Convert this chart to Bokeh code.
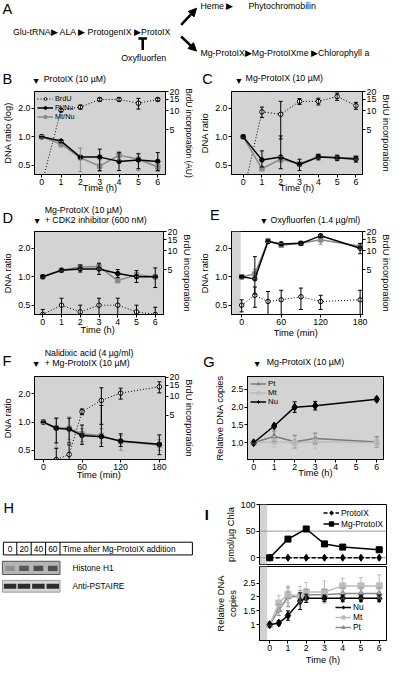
from bokeh.plotting import figure
from bokeh.models import (Range1d, LinearAxis, FixedTicker, Whisker, TeeHead, ColumnDataSource,
                          Label, BoxAnnotation, Span, Legend, LegendItem, Arrow, NormalHead,
                          NumeralTickFormatter)
from bokeh.layouts import row, column
from bokeh.embed import file_html
from bokeh.resources import INLINE

# ---------------- data ----------------
hours = [0, 1, 2, 3, 4, 5, 6]
minutes = [0, 20, 40, 60, 90, 120, 180]

# B: ProtoIX
b_brdu = [0.7, 10.2, 11.4, 15.0, 15.0, 13.1, 15.0]
b_brdu_err = [0.0, 0.6, 0.8, 0.8, 0.9, 2.5, 0.8]
b_pt = [1.0, 0.90, 0.61, 0.61, 0.55, 0.57, 0.55]
b_pt_lo = [1.0, 0.87, 0.61, 0.44, 0.44, 0.46, 0.44]
b_pt_hi = [1.0, 0.93, 0.61, 0.74, 0.68, 0.66, 0.68]
b_mt = [1.0, 0.84, 0.60, 0.49, 0.64, 0.58, 0.48]
b_mt_lo = [0.97, 0.78, 0.43, 0.43, 0.57, 0.44, 0.43]
b_mt_hi = [1.03, 0.89, 0.76, 0.57, 0.70, 0.67, 0.52]

# C: Mg-ProtoIX
c_brdu = [0.5, 9.6, 8.8, 14.0, 14.0, 16.7, 12.0]
c_brdu_err = [0.0, 1.8, 5.2, 1.5, 1.7, 2.2, 1.5]
c_pt = [1.0, 0.57, 0.61, 0.51, 0.61, 0.60, 0.58]
c_pt_lo = [1.0, 0.48, 0.46, 0.44, 0.57, 0.56, 0.54]
c_pt_hi = [1.0, 0.71, 1.02, 0.58, 0.65, 0.64, 0.62]
c_mt = [1.0, 0.46, 0.58, 0.52, 0.62, 0.60, 0.60]
c_mt_lo = [1.0, 0.44, 0.54, 0.49, 0.58, 0.57, 0.57]
c_mt_hi = [1.0, 0.49, 0.62, 0.55, 0.66, 0.63, 0.63]

# D: Mg-ProtoIX + CDK2 inhibitor
d_brdu = [1.0, 1.4, 1.1, 1.4, 1.4, 1.1, 1.0]
d_brdu_err = [0.2, 0.4, 0.3, 0.4, 0.4, 0.3, 0.3]
d_pt = [1.0, 1.17, 1.21, 1.21, 1.08, 1.0, 1.0]
d_pt_lo = [1.0, 1.15, 1.12, 1.06, 0.98, 0.87, 0.77]
d_pt_hi = [1.0, 1.19, 1.33, 1.39, 1.19, 1.16, 1.24]
d_mt = [1.0, 1.17, 1.27, 1.28, 0.91, 1.05, 1.0]
d_mt_lo = [1.0, 1.15, 1.20, 1.20, 0.88, 1.0, 0.95]
d_mt_hi = [1.0, 1.19, 1.34, 1.36, 0.94, 1.1, 1.05]

# E: Oxyfluorfen
e_brdu = [1.4, 2.0, 1.6, 1.7, 1.9, 1.6, 1.7]
e_brdu_err = [0.3, 0.7, 0.7, 0.7, 0.7, 0.4, 0.7]
e_pt = [1.0, 0.95, 2.35, 2.22, 2.25, 2.7, 2.0]
e_pt_lo = [0.97, 0.66, 2.25, 2.12, 2.15, 2.6, 1.75]
e_pt_hi = [1.03, 1.63, 2.45, 2.32, 2.35, 2.8, 2.25]
e_mt = [1.0, 1.07, 2.4, 2.15, 2.25, 2.45, 2.1]
e_mt_lo = [0.95, 0.95, 2.3, 2.05, 2.15, 2.2, 1.95]
e_mt_hi = [1.05, 1.2, 2.5, 2.25, 2.35, 2.7, 2.25]

# F: Nalidixic acid + Mg-ProtoIX
f_brdu = [0.5, 1.0, 1.2, 5.7, 8.6, 11.2, 14.1]
f_brdu_err = [0.3, 0.5, 0.5, 0.6, 5.0, 2.2, 2.8]
f_pt = [1.0, 0.86, 0.84, 0.72, 0.70, 0.63, 0.58]
f_pt_lo = [1.0, 0.60, 0.60, 0.58, 0.55, 0.55, 0.45]
f_pt_hi = [1.0, 1.10, 1.10, 0.93, 1.50, 0.75, 0.73]
f_mt = [1.0, 0.87, 0.86, 0.75, 0.72, 0.62, 0.57]
f_mt_lo = [0.97, 0.54, 0.65, 0.62, 0.60, 0.50, 0.50]
f_mt_hi = [1.03, 1.10, 1.13, 0.85, 0.85, 0.72, 0.65]

# G: relative DNA copies
g_t = [0, 1, 2, 3, 6]
g_nu = [1.0, 1.47, 2.0, 2.04, 2.22]
g_nu_err = [0.0, 0.05, 0.15, 0.12, 0.06]
g_mt = [1.0, 1.03, 1.0, 1.03, 1.0]
g_mt_err = [0.0, 0.15, 0.17, 0.2, 0.12]
g_pt = [1.0, 1.18, 1.03, 1.12, 1.02]
g_pt_err = [0.0, 0.15, 0.18, 0.15, 0.15]

# H: blot lanes
h_lanes = ["0", "20", "40", "60"]
h_histone = [0.45, 0.75, 0.8, 0.8]
h_pstaire = [0.95, 0.95, 0.95, 0.95]

# I top: pmol / ug Chla
i_mg_t = [0, 1, 2, 3, 4, 6]
i_mg = [0, 35, 54, 26, 20, 15]
i_proto_t = [0, 1, 2, 3, 4, 5, 6]
i_proto = [0, 0, 0, 0, 0, 0, 0]

# I bottom: relative DNA copies
i_t = [0, 0.5, 1, 1.67, 2, 3, 4, 5, 6]
i_nu = [1.0, 1.06, 1.33, 1.85, 1.95, 1.95, 1.95, 1.95, 1.95]
i_nu_err = [0.0, 0.07, 0.17, 0.3, 0.15, 0.12, 0.12, 0.12, 0.12]
i_mt = [1.0, 1.78, 2.1, 2.03, 2.18, 2.18, 2.4, 2.4, 2.4]
i_mt_err = [0.0, 0.28, 0.3, 0.35, 0.35, 0.4, 0.28, 0.3, 0.4]
i_pt = [1.0, 1.53, 2.0, 2.03, 2.08, 2.08, 2.13, 2.13, 2.13]
i_pt_err = [0.0, 0.2, 0.35, 0.2, 0.2, 0.2, 0.2, 0.2, 0.2]

# ---------------- styling / layout helpers ----------------
FONT = "Liberation Sans"
BG = "#d3d3d3"
GRAY = "#8a8a8a"
LIGHT = "#bdbdbd"
SX = 394 / 410
SY = 667 / 683


def fs(n):
    return f"{n * 0.975:.1f}px"


def sxp(x):
    return round(x * SX)


def syp(y):
    return round(y * SY)


def plain_fig(col, rows):
    """Axis-less figure whose frame is the whole canvas; ranges in reference pixels."""
    p = figure(width=sxp(col[1]) - sxp(col[0]), height=syp(rows[1]) - syp(rows[0]),
               x_range=Range1d(col[0], col[1]), y_range=Range1d(rows[1], rows[0]),
               output_backend="svg", toolbar_location=None, min_border=0,
               x_axis_location=None, y_axis_location=None)
    p.outline_line_color = None
    p.grid.visible = False
    p.background_fill_color = "white"
    return p


def dnote(p, X, Y, text, size=9, align="left", style="normal"):
    p.add_layout(Label(x=X, y=Y, text=text, text_font=FONT, text_font_size=fs(size),
                       text_align=align, text_baseline="middle", text_color="black",
                       text_font_style=style))


def frame_fig(col, rows, frame, xr, yr, ylog=False, bg=BG, x_axis=True):
    L, T, R, B = frame
    x0, x1 = sxp(col[0]), sxp(col[1])
    y0, y1 = syp(rows[0]), syp(rows[1])
    p = figure(width=x1 - x0, height=y1 - y0, x_range=Range1d(*xr), y_range=Range1d(*yr),
               y_axis_type=("log" if ylog else "linear"),
               x_axis_location=("below" if x_axis else None),
               output_backend="svg", toolbar_location=None,
               min_border_left=sxp(L) - x0, min_border_right=x1 - sxp(R),
               min_border_top=syp(T) - y0, min_border_bottom=y1 - syp(B))
    p.background_fill_color = bg
    p.border_fill_color = "white"
    p.outline_line_color = "black"
    p.outline_line_width = 1
    p.grid.visible = False
    return p


def style_axis(ax, label="", ticks=None, fmt=None, standoff=2, lab=9.5, tick=9):
    if ticks is not None:
        ax.ticker = FixedTicker(ticks=ticks)
    if fmt:
        ax.formatter = NumeralTickFormatter(format=fmt)
    ax.axis_label = label
    ax.axis_label_text_font = FONT
    ax.axis_label_text_font_size = fs(lab)
    ax.axis_label_text_font_style = "normal"
    ax.axis_label_text_color = "black"
    ax.axis_label_standoff = standoff
    ax.major_label_text_font = FONT
    ax.major_label_text_font_size = fs(tick)
    ax.major_label_text_color = "black"
    ax.major_label_standoff = 1
    ax.major_tick_in = 0
    ax.major_tick_out = 3
    ax.minor_tick_in = 0
    ax.minor_tick_out = 0
    ax.axis_line_color = "black"
    ax.major_tick_line_color = "black"


def whisk(p, x, lo, hi, color, yname="default", cap=4):
    src = ColumnDataSource(dict(x=list(x), lo=list(lo), hi=list(hi)))
    p.add_layout(Whisker(base="x", lower="lo", upper="hi", source=src, line_color=color,
                         line_width=1, y_range_name=yname, level="glyph",
                         upper_head=TeeHead(size=cap, line_color=color, line_width=1),
                         lower_head=TeeHead(size=cap, line_color=color, line_width=1)))


def series(p, x, y, color, marker, size, fill=None, dash="solid", lw=1.5,
           yname="default", lo=None, hi=None, err=None):
    if err is not None:
        lo = [v - e for v, e in zip(y, err)]
        hi = [v + e for v, e in zip(y, err)]
    if lo is not None:
        whisk(p, x, lo, hi, color, yname)
    l = p.line(x, y, line_color=color, line_width=lw, line_dash=dash, y_range_name=yname)
    s = p.scatter(x, y, marker=marker, size=size, fill_color=fill or color,
                  line_color=color, line_width=1, y_range_name=yname)
    return [l, s]


def legend(p, items, location, size=7.5, gh=7):
    lg = Legend(items=[LegendItem(label=t, renderers=r) for t, r in items], location=location)
    lg.label_text_font = FONT
    lg.label_text_font_size = fs(size)
    lg.label_text_color = "black"
    lg.glyph_width = 16
    lg.glyph_height = gh
    lg.label_height = gh
    lg.spacing = 0
    lg.padding = 0
    lg.margin = 3
    lg.label_standoff = 2
    lg.background_fill_alpha = 0
    lg.border_line_alpha = 0
    p.add_layout(lg)


def dna_panel(col, rows, frame, xr, yr, rr, xt, xlabel, ylabel, rlabel, t, brdu, brdu_err,
              pt, pt_lo, pt_hi, mt, mt_lo, mt_hi, bg=BG, xstand=0, rsize=9.5):
    p = frame_fig(col, rows, frame, xr, yr, ylog=True, bg=bg)
    style_axis(p.yaxis[0], ylabel, [0.5, 1, 2], "0.0", standoff=2)
    style_axis(p.xaxis[0], xlabel, xt, standoff=xstand)
    p.extra_y_ranges = {"r": Range1d(*rr)}
    ax = LinearAxis(y_range_name="r")
    style_axis(ax, rlabel, [0, 5, 10, 15, 20], standoff=2, lab=rsize)
    p.add_layout(ax, "right")
    r_b = series(p, t, brdu, "black", "circle", 4.5, fill="white", dash="1 2", lw=1,
                 yname="r", err=brdu_err)
    r_m = series(p, t, mt, GRAY, "square", 4.5, lo=mt_lo, hi=mt_hi)
    r_p = series(p, t, pt, "black", "circle", 4.5, lo=pt_lo, hi=pt_hi)
    return p, r_b, r_p, r_m


DOWN = "\u25BC"

# ---------------- panel A (scheme) ----------------
pA = plain_fig((0, 410), (0, 72))
dnote(pA, 2, 9, "A", 15)
dnote(pA, 13, 32, "Glu-tRNA\u25B6 ALA \u25B6 ProtogenIX \u25B6ProtoIX", 9)
dnote(pA, 208, 6, "Heme", 9)
dnote(pA, 235, 6, "\u25B6", 9)
dnote(pA, 258, 6, "Phytochromobilin", 9)
dnote(pA, 208, 54, "Mg-ProtoIX\u25B6Mg-ProtoIXme \u25B6Chlorophyll a", 9)
dnote(pA, 149, 59, "Oxyfluorfen", 9, align="center")
for xs, ys, xe, ye in [(188, 25, 204, 8), (188, 37, 204, 52)]:
    pA.add_layout(Arrow(x_start=xs, y_start=ys, x_end=xe, y_end=ye, line_width=2.5,
                        end=NormalHead(size=8, fill_color="black", line_color="black")))
pA.segment(x0=[148, 143.5], y0=[39, 39], x1=[148, 152.5], y1=[51, 39], line_width=2.5,
           line_color="black")

# ---------------- header B / C ----------------
hBC = plain_fig((0, 410), (72, 87))
dnote(hBC, 2, 80, "B", 15)
dnote(hBC, 37, 82, DOWN, 9, align="center")
dnote(hBC, 45, 80, "ProtoIX (10 \u00B5M)", 9)
dnote(hBC, 210, 80, "C", 15)
dnote(hBC, 248, 82, DOWN, 9, align="center")
dnote(hBC, 255, 79, "Mg-ProtoIX (10 \u00B5M)", 9)

# ---------------- panel B ----------------
pB, bB, bP, bM = dna_panel((0, 205), (87, 200), (30, 93, 177, 178), (-0.37, 6.4), (0.4, 3.0),
                           (-0.24, 20.0), hours, "Time (h)", "DNA ratio (log)",
                           "BrdU incorporation (AU)", hours, b_brdu, b_brdu_err,
                           b_pt, b_pt_lo, b_pt_hi, b_mt, b_mt_lo, b_mt_hi, xstand=-5,
                           rsize=8.6)
legend(pB, [("BrdU", bB), ("Pt/Nu", bP), ("Mt/Nu", bM)], "top_left")

# ---------------- panel C ----------------
pC, _, _, _ = dna_panel((205, 410), (87, 200), (238, 93, 383, 178), (-0.62, 6.35), (0.4, 3.0),
                        (-0.24, 20.0), hours, "Time (h)", "DNA ratio",
                        "BrdU incorporation", hours, c_brdu, c_brdu_err,
                        c_pt, c_pt_lo, c_pt_hi, c_mt, c_mt_lo, c_mt_hi, xstand=-5)

# ---------------- header D / E ----------------
hDE = plain_fig((0, 410), (200, 231))
dnote(hDE, 2, 222, "D", 15)
dnote(hDE, 38, 225.5, DOWN, 9, align="center")
dnote(hDE, 46, 214, "Mg-ProtoIX (10 \u00B5M)", 9)
dnote(hDE, 46, 224, "+ CDK2 inhibitor (600 nM)", 9)
dnote(hDE, 218, 219, "E", 15)
dnote(hDE, 274, 225.5, DOWN, 9, align="center")
dnote(hDE, 281, 224, "Oxyfluorfen (1.4 \u00B5g/ml)", 9)

# ---------------- panel D ----------------
pD, _, _, _ = dna_panel((0, 205), (231, 348), (29, 237, 170, 323), (-0.44, 6.44), (0.4, 3.0),
                        (0, 20.1), hours, "Time  (h)", "DNA ratio",
                        "BrdU incorporation", hours, d_brdu, d_brdu_err,
                        d_pt, d_pt_lo, d_pt_hi, d_mt, d_mt_lo, d_mt_hi, xstand=-3)

# ---------------- panel E ----------------
pE, _, _, _ = dna_panel((205, 410), (231, 348), (236, 237, 377, 323), (-15.5, 183.6), (0.4, 3.0),
                        (0, 20.1), [0, 60, 120, 180], "Time  (min)", "DNA ratio",
                        "BrdU incorporation", minutes, e_brdu, e_brdu_err,
                        e_pt, e_pt_lo, e_pt_hi, e_mt, e_mt_lo, e_mt_hi, bg="white", xstand=0)
pE.add_layout(BoxAnnotation(right=-1.5, fill_color=BG, fill_alpha=1, line_alpha=0, level="underlay"))

# ---------------- header F / G ----------------
hFG = plain_fig((0, 410), (348, 379))
dnote(hFG, 2, 369, "F", 15)
dnote(hFG, 37, 372, DOWN, 9, align="center")
dnote(hFG, 46, 361, "Nalidixic acid (4 \u00B5g/ml)", 9)
dnote(hFG, 46, 371, "+ Mg-ProtoIX (10 \u00B5M)", 9)
dnote(hFG, 211, 370, "G", 15)
dnote(hFG, 267, 372, DOWN, 9, align="center")
dnote(hFG, 277, 370, "Mg-ProtoIX (10 \u00B5M)", 9)

# ---------------- panel F ----------------
pF, _, _, _ = dna_panel((0, 205), (379, 494), (28, 385, 175, 470), (-13.8, 189.6), (0.4, 3.05),
                        (-0.5, 20.5), [0, 60, 120, 180], "Time  (min)", "DNA ratio",
                        "BrdU incorporation", minutes, f_brdu, f_brdu_err,
                        f_pt, f_pt_lo, f_pt_hi, f_mt, f_mt_lo, f_mt_hi, xstand=-3)

# ---------------- panel G ----------------
pG = frame_fig((205, 410), (379, 494), (257, 385, 399, 470), (-0.3, 6.33), (0.53, 2.86))
style_axis(pG.yaxis[0], "Relative DNA copies", [1.0, 1.5, 2.0, 2.5], "0.0", standoff=3)
style_axis(pG.xaxis[0], "Time (h)", hours, standoff=-5)
gP = series(pG, g_t, g_pt, "#7a7a7a", "triangle", 5.5, err=g_pt_err)
gM = series(pG, g_t, g_mt, LIGHT, "square", 5, err=g_mt_err)
gN = series(pG, g_t, g_nu, "black", "diamond", 8, err=g_nu_err)
legend(pG, [("Pt", gP), ("Mt", gM), ("Nu", gN)], "top_left", size=8)

# ---------------- panel H (blot) + letter I ----------------
pH = plain_fig((0, 222), (494, 683))
dnote(pH, 3, 520, "H", 15)
dnote(pH, 213, 527, "I", 15, style="bold")
lane_x = [10, 24.5, 39.5, 54.5]
pH.quad(left=[3], right=[200], top=[555], bottom=[568], fill_color=None, line_color="black",
        line_width=1)
pH.segment(x0=[17, 32, 47, 62], x1=[17, 32, 47, 62], y0=[555] * 4, y1=[568] * 4,
           line_color="black", line_width=1)
for xl, lab in zip(lane_x, h_lanes):
    dnote(pH, xl, 561.5, lab, 8.5, align="center")
dnote(pH, 65, 561.5, "Time after Mg-ProtoIX addition", 8.5)


def gray_hex(intensity):
    v = int(round(235 - 200 * intensity))
    return "#%02x%02x%02x" % (v, v, v)


pH.quad(left=[2], right=[62], top=[574.5], bottom=[588], fill_color="#b4b4b4",
        line_color="#555555", line_width=1)
pH.quad(left=[xl - 5 for xl in lane_x], right=[xl + 5 for xl in lane_x], top=[579] * 4,
        bottom=[584.5] * 4, fill_color=[gray_hex(v) for v in h_histone], line_color=None)
dnote(pH, 75, 581, "Histone H1", 8.5)
pH.quad(left=[2], right=[62], top=[594], bottom=[606], fill_color="#d6d6d6",
        line_color="#999999", line_width=1)
pH.quad(left=[xl - 6.5 for xl in lane_x], right=[xl + 6.5 for xl in lane_x], top=[597.5] * 4,
        bottom=[602.5] * 4, fill_color=[gray_hex(v) for v in h_pstaire], line_color=None)
dnote(pH, 75, 600, "Anti-PSTAIRE", 8.5)

# ---------------- panel I top ----------------
pI1 = frame_fig((222, 410), (494, 579), (253, 516, 402, 578), (-0.56, 6.4), (-12.7, 100),
                bg="white", x_axis=False)
style_axis(pI1.yaxis[0], "pmol/\u00B5g Chla", [0, 50, 100], standoff=2)
pI1.add_layout(BoxAnnotation(right=-0.14, fill_color=BG, fill_alpha=1, line_alpha=0,
                             level="underlay"))
pI1.add_layout(Span(location=50, dimension="width", line_color="#9a9a9a", line_width=1,
                    level="underlay"))
pI1.add_layout(Span(location=0, dimension="width", line_color="#9a9a9a", line_width=1,
                    level="underlay"))
iP = series(pI1, i_proto_t, i_proto, "black", "diamond", 7, dash="4 2")
iM = series(pI1, i_mg_t, i_mg, "black", "square", 6)
legend(pI1, [("ProtoIX", iP), ("Mg-ProtoIX", iM)], "top_right", size=8.5, gh=11)

# ---------------- panel I bottom ----------------
pI2 = frame_fig((222, 410), (579, 683), (253, 580, 402, 660), (-0.56, 6.4), (0.43, 3.1),
                bg="white")
style_axis(pI2.yaxis[0], "Relative DNA\ncopies", [1, 1.5, 2, 2.5], "0.[0]", standoff=2)
style_axis(pI2.xaxis[0], "Time (h)", hours, standoff=1)
pI2.add_layout(BoxAnnotation(right=-0.14, fill_color=BG, fill_alpha=1, line_alpha=0,
                             level="underlay"))
jP = series(pI2, i_t, i_pt, GRAY, "triangle", 6, err=i_pt_err)
jM = series(pI2, i_t, i_mt, LIGHT, "square", 6, err=i_mt_err)
jN = series(pI2, i_t, i_nu, "black", "diamond", 8, err=i_nu_err)
legend(pI2, [("Nu", jN), ("Mt", jM), ("Pt", jP)], (76, 8), size=8.5, gh=8)

layout = column(pA, hBC, row(pB, pC), hDE, row(pD, pE), hFG, row(pF, pG),
                row(pH, column(pI1, pI2)))
open("out.html", "w").write(file_html(layout, INLINE))
